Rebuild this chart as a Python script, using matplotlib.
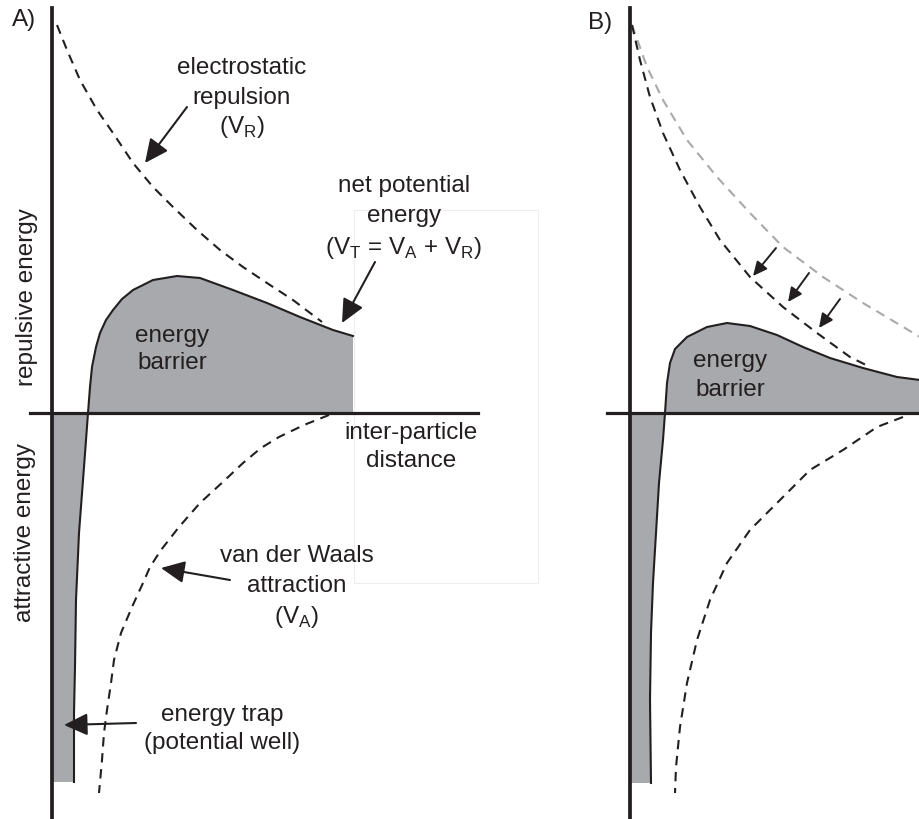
import matplotlib.pyplot as plt
from matplotlib.patches import Rectangle

plt.rcParams['font.family'] = ['Liberation Sans', 'DejaVu Sans']
plt.rcParams['mathtext.fontset'] = 'custom'
plt.rcParams['mathtext.rm'] = 'Liberation Sans'

# panel A curves, distance (x) vs energy (y), origin where the axes cross
vr_a_x = [5, 15, 28, 45, 61, 81, 101, 121, 145, 168, 191, 218, 241, 270]
vr_a_y = [388, 363, 333, 303, 280, 250, 226, 206, 183, 163, 146, 128, 113, 91]
va_a_x = [277, 252, 227, 209, 191, 173, 148, 127, 109, 98, 91, 80, 69, 62, 59, 55, 52, 50, 47]
va_a_y = [-2, -12, -24, -35, -50, -67, -90, -114, -137, -154, -170, -194, -220, -247, -270, -297, -320, -347, -380]
net_a_x = [22, 22, 23, 24, 27, 32, 36, 38, 40, 44, 48, 54, 61, 70, 81, 101, 125, 148, 181, 215, 248, 281, 301]
net_a_y = [-369, -300, -254, -187, -120, -54, 0, 26, 46, 66, 80, 93, 103, 114, 123, 133, 137, 135, 123, 110, 96, 83, 77]

# panel B curves (old repulsion in grey, lowered repulsion in black)
vr_old_b_x = [2, 17, 33, 57, 87, 120, 153, 193, 233, 290]
vr_old_b_y = [388, 346, 313, 273, 236, 200, 166, 136, 110, 76]
vr_b_x = [2, 10, 20, 33, 50, 70, 90, 120, 153, 187, 220, 240]
vr_b_y = [388, 353, 316, 280, 243, 206, 173, 136, 106, 80, 56, 46]
va_b_x = [273, 247, 213, 180, 147, 120, 97, 80, 67, 57, 50, 46, 45]
va_b_y = [-4, -14, -37, -57, -90, -117, -150, -187, -227, -270, -314, -354, -380]
net_b_x = [21, 20, 21, 23, 26, 29, 33, 35, 37, 40, 45, 57, 77, 97, 120, 147, 173, 200, 233, 267, 290]
net_b_y = [-370, -287, -220, -170, -120, -70, -27, 0, 30, 50, 64, 76, 86, 90, 87, 78, 66, 55, 45, 36, 33]
# small arrows showing the drop of the repulsion curve
shift_tails = [(146, 165), (179, 140), (210, 114)]
shift_tips = [(123, 137), (158, 111), (189, 85)]

INK = '#231f20'
FILL = '#a7a9ac'
FS = 17.5
DASH = (0, (4.5, 3.2))


def setupPanel(ax, xlim, hbounds):
    ax.set_xlim(*xlim)
    ax.set_ylim(-406, 413)
    ax.set_xticks([])
    ax.set_yticks([])
    ax.patch.set_alpha(0)
    ax.spines['top'].set_visible(False)
    ax.spines['right'].set_visible(False)
    ax.spines['left'].set_position(('data', 0))
    ax.spines['bottom'].set_position(('data', 0))
    ax.spines['left'].set_bounds(-406, 405)
    ax.spines['bottom'].set_bounds(*hbounds)
    ax.spines['left'].set_linewidth(2.7)
    ax.spines['bottom'].set_linewidth(2.3)
    ax.spines['left'].set_color(INK)
    ax.spines['bottom'].set_color(INK)


def drawNet(ax, xs, ys):
    #grey area between net curve and zero line, plus the well down the axis
    polyX = [0] + xs + [xs[-1], 0]
    polyY = [ys[0]] + ys + [0, 0]
    ax.fill(polyX, polyY, color=FILL, lw=0, zorder=1)
    ax.plot(xs, ys, color=INK, lw=1.5, zorder=2, solid_joinstyle='round')


def arrow(ax, tail, tip, scale=17, lw=1.5):
    ax.annotate('', xy=tip, xytext=tail,
                arrowprops=dict(arrowstyle='-|>,head_length=0.85,head_width=0.4',
                                color=INK, lw=lw, mutation_scale=scale,
                                shrinkA=0, shrinkB=0))


def lines(ax, x, ys, texts):
    for y, t in zip(ys, texts):
        ax.text(x, y, t, ha='center', va='baseline', fontsize=FS, color=INK)


fig = plt.figure(figsize=(9.2, 8.19), dpi=100)
axA = fig.add_axes([0, 0, 580 / 920, 1])
axB = fig.add_axes([580 / 920, 0, 340 / 920, 1])

#panel A
setupPanel(axA, (-52, 528), (-22, 426))
axA.add_patch(Rectangle((302, -170), 184, 373, fill=False, ec='#ededed', lw=0.8, zorder=0))
drawNet(axA, net_a_x, net_a_y)
axA.plot(vr_a_x, vr_a_y, color=INK, lw=1.5, ls=DASH)
axA.plot(va_a_x, va_a_y, color=INK, lw=1.5, ls=DASH)

lines(axA, 190, [339, 309, 280], ['electrostatic', 'repulsion', '(V$_\\mathrm{R}$)'])
lines(axA, 352, [221, 191, 159], ['net potential', 'energy',
      '(V$_\\mathrm{T}$ = V$_\\mathrm{A}$ + V$_\\mathrm{R}$)'])
lines(axA, 120, [71, 44], ['energy', 'barrier'])
lines(axA, 359, [-26, -54], ['inter-particle', 'distance'])
lines(axA, 245, [-149, -179, -210], ['van der Waals', 'attraction', '(V$_\\mathrm{A}$)'])
lines(axA, 170, [-308, -336], ['energy trap', '(potential well)'])

arrow(axA, (135, 306), (93, 250))
arrow(axA, (323, 151), (290, 90))
arrow(axA, (178, -167), (109, -155))
arrow(axA, (84, -310), (12, -312))

axA.text(-25, 116, 'repulsive energy', rotation=90, ha='center', va='center',
         fontsize=FS, color=INK)
axA.text(-27, -119, 'attractive energy', rotation=90, ha='center', va='center',
         fontsize=FS, color=INK)
axA.text(-40, 393, 'A)', ha='left', va='center', fontsize=FS, color=INK)

#panel B
setupPanel(axB, (-50, 290), (-23, 300))
drawNet(axB, net_b_x, net_b_y)
axB.plot(vr_old_b_x, vr_old_b_y, color='#a9a9a9', lw=1.5, ls=DASH)
axB.plot(vr_b_x, vr_b_y, color=INK, lw=1.5, ls=DASH)
axB.plot(va_b_x, va_b_y, color=INK, lw=1.5, ls=DASH)
for tail, tip in zip(shift_tails, shift_tips):
    arrow(axB, tail, tip, scale=10, lw=1.4)
lines(axB, 100, [46, 17], ['energy', 'barrier'])
axB.text(-42, 390, 'B)', ha='left', va='center', fontsize=FS, color=INK)

plt.savefig('out.png', dpi=100)
